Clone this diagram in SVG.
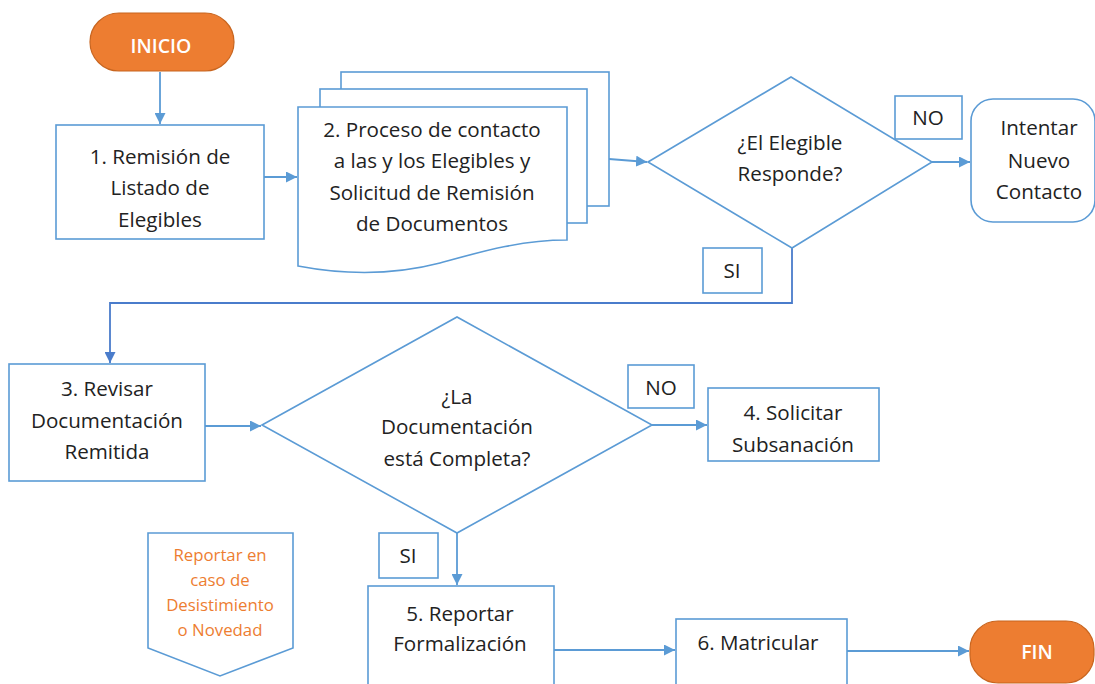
<svg xmlns="http://www.w3.org/2000/svg" width="1095" height="684" viewBox="0 0 1095 684">
<style>
.box{fill:#fff;stroke:#5B9BD5;stroke-width:1.6}
.term{fill:#ED7D31;stroke:#C8651F;stroke-width:1.2}
.t{font-family:"Open Sans","Liberation Sans",sans-serif;font-size:20.6px;fill:#222;text-anchor:middle}
.tw{font-family:"Open Sans","Liberation Sans",sans-serif;font-size:19.5px;font-weight:600;fill:#fff;text-anchor:middle}
.to{font-family:"Open Sans","Liberation Sans",sans-serif;font-size:16.8px;fill:#ED7D31;text-anchor:middle}
.c{fill:none;stroke:#5B9BD5;stroke-width:1.8}
</style>
<defs>
<marker id="ah" viewBox="0 0 10 10" refX="10" refY="5" markerWidth="11" markerHeight="11" markerUnits="userSpaceOnUse" orient="auto">
<path d="M0,0 L10,5 L0,10 z" fill="#5B9BD5"/>
</marker>
<marker id="ah2" viewBox="0 0 10 10" refX="10" refY="5" markerWidth="11" markerHeight="11" markerUnits="userSpaceOnUse" orient="auto">
<path d="M0,0 L10,5 L0,10 z" fill="#4A7CCB"/>
</marker>
</defs>
<rect width="1095" height="684" fill="#fff"/>

<g id="connectors">
<path class="c" d="M160,72 V124" marker-end="url(#ah)"/>
<path class="c" d="M264,177 H297" marker-end="url(#ah)"/>
<path class="c" d="M609,159 L647,162" marker-end="url(#ah)"/>
<path class="c" d="M932,162 H970" marker-end="url(#ah)"/>
<path class="c" d="M792,248 V303 H110 V363" style="stroke:#4A7CCB" marker-end="url(#ah2)"/>
<path class="c" d="M205,426 H261" marker-end="url(#ah)"/>
<path class="c" d="M652,425 H707" marker-end="url(#ah)"/>
<path class="c" d="M457,533 V585" marker-end="url(#ah)"/>
<path class="c" d="M554,650 H675" marker-end="url(#ah)"/>
<path class="c" d="M847,651 H969" marker-end="url(#ah)"/>
</g>

<g id="inicio">
<rect class="term" x="90" y="13" width="144" height="58" rx="29"/>
<text class="tw" x="161" y="53">INICIO</text>
</g>

<g id="n1">
<rect class="box" x="56" y="125" width="208" height="114"/>
<text class="t" x="160" y="164">1. Remisión de</text>
<text class="t" x="160" y="195">Listado de</text>
<text class="t" x="160" y="227">Elegibles</text>
</g>

<g id="n2">
<rect class="box" x="341" y="72" width="268" height="134"/>
<rect class="box" x="320" y="89" width="267" height="134"/>
<path class="box" d="M298,107 H567 V240 C520,240 480,252 440,263 C390,276 340,274 298,266 Z"/>
<text class="t" x="432" y="137">2. Proceso de contacto</text>
<text class="t" x="432" y="168">a las y los Elegibles y</text>
<text class="t" x="432" y="200">Solicitud de Remisión</text>
<text class="t" x="432" y="231">de Documentos</text>
</g>

<g id="d1">
<path class="box" d="M648,162 L791,77 L932,162 L792,248 Z"/>
<text class="t" x="790" y="150">¿El Elegible</text>
<text class="t" x="790" y="181">Responde?</text>
</g>

<g id="no1">
<rect class="box" x="895" y="96" width="67" height="43"/>
<text class="t" x="928" y="125">NO</text>
</g>

<g id="intentar">
<rect class="box" x="971" y="99" width="124" height="123" rx="22"/>
<text class="t" x="1039" y="135">Intentar</text>
<text class="t" x="1039" y="168">Nuevo</text>
<text class="t" x="1039" y="199">Contacto</text>
</g>

<g id="si1">
<rect class="box" x="703" y="248" width="59" height="45"/>
<text class="t" x="732" y="278">SI</text>
</g>

<g id="n3">
<rect class="box" x="9" y="364" width="196" height="117"/>
<text class="t" x="107" y="396">3. Revisar</text>
<text class="t" x="107" y="428">Documentación</text>
<text class="t" x="107" y="459">Remitida</text>
</g>

<g id="d2">
<path class="box" d="M262,425 L457,317 L652,425 L457,533 Z"/>
<text class="t" x="457" y="404">¿La</text>
<text class="t" x="457" y="434">Documentación</text>
<text class="t" x="457" y="466">está Completa?</text>
</g>

<g id="no2">
<rect class="box" x="628" y="365" width="66" height="43"/>
<text class="t" x="661" y="395">NO</text>
</g>

<g id="n4">
<rect class="box" x="708" y="388" width="171" height="73"/>
<text class="t" x="793" y="420">4. Solicitar</text>
<text class="t" x="793" y="452">Subsanación</text>
</g>

<g id="si2">
<rect class="box" x="379" y="533" width="59" height="45"/>
<text class="t" x="408" y="563">SI</text>
</g>

<g id="reportar">
<path class="box" d="M148,533 H293 V648 L220,676 L148,648 Z"/>
<text class="to" x="220" y="561">Reportar en</text>
<text class="to" x="220" y="586">caso de</text>
<text class="to" x="220" y="611">Desistimiento</text>
<text class="to" x="220" y="636">o Novedad</text>
</g>

<g id="n5">
<rect class="box" x="368" y="586" width="186" height="110"/>
<text class="t" x="460" y="621">5. Reportar</text>
<text class="t" x="460" y="651">Formalización</text>
</g>

<g id="n6">
<rect class="box" x="676" y="619" width="171" height="80"/>
<text class="t" x="758" y="650">6. Matricular</text>
</g>

<g id="fin">
<rect class="term" x="970" y="621" width="124" height="62" rx="28"/>
<text class="tw" x="1037" y="659">FIN</text>
</g>
</svg>
